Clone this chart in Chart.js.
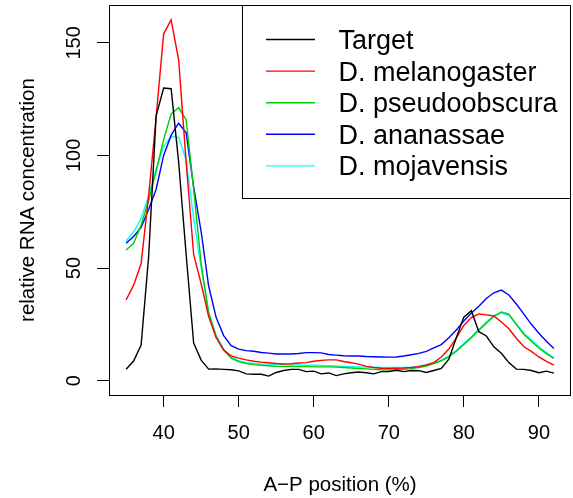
<!DOCTYPE html>
<html lang="en">
<head>
<meta charset="UTF-8">
<title>Relative RNA concentration</title>
<script src="https://cdn.jsdelivr.net/npm/chart.js"></script>
<style>
    html, body { margin: 0; padding: 0; background: #fff; }
    #grafico { display: block; }
</style>
</head>
<body>
<canvas id="grafico" width="573" height="498"></canvas>
<script>
    // A-P position (%)
    const posicoes = [35, 36, 37, 38, 39, 40, 41, 42, 43, 44,
        45, 46, 47, 48, 49, 50, 51, 52, 53, 54,
        55, 56, 57, 58, 59, 60, 61, 62, 63, 64,
        65, 66, 67, 68, 69, 70, 71, 72, 73, 74,
        75, 76, 77, 78, 79, 80, 81, 82, 83, 84,
        85, 86, 87, 88, 89, 90, 91, 92];

    const target = [5, 8.7, 15.8, 55, 117.6, 129.9, 129.6, 97, 56, 16.7,
        9.1, 5.1, 5.2, 5, 4.8, 4.3, 3, 2.8, 2.8, 2,
        3.6, 4.5, 5, 5, 4, 4.2, 3, 3.4, 2.2, 3,
        3.5, 3.8, 3.5, 3, 4, 4, 4.6, 4, 4.5, 4.4,
        3.6, 4.5, 5.4, 9.5, 19, 28.2, 31, 21.7, 19.8, 15,
        12.1, 8, 5.1, 5, 4.5, 3.5, 4.2, 3.3];

    const melanogaster = [35.8, 42.4, 52, 82, 117, 154, 160.2, 142.4, 97, 56,
        43, 28.4, 19, 13.5, 11, 10, 9.2, 8.6, 8.2, 7.9,
        7.6, 7.4, 7.5, 7.8, 8, 8.6, 9, 9.2, 9.2, 8.5,
        7.9, 7.3, 6.3, 5.8, 5.5, 5.4, 5.5, 5.6, 5.8, 6.2,
        7, 8, 10.5, 14, 19, 24.5, 28, 29.6, 29.2, 28.7,
        26, 23, 18.8, 15, 13, 10.5, 8.5, 6.9];

    const pseudoobscura = [58, 61, 69, 80, 93, 107, 118.4, 121.2, 115.8, 85,
        52, 30, 19.5, 13.5, 10, 8.4, 7.6, 7.1, 6.8, 6.6,
        6.4, 6.3, 6.3, 6.2, 6.2, 6.1, 6.1, 6.1, 6, 5.8,
        5.6, 5.4, 5.2, 5, 4.8, 4.7, 4.8, 5, 5.3, 5.8,
        6.5, 7.5, 8.8, 10.5, 13, 16, 19, 22.4, 25.5, 28.5,
        30.5, 29.5, 25, 20.5, 17.5, 14.5, 12, 9.9];

    const ananassae = [61, 64, 68, 76, 85, 100, 109, 114.3, 110, 86,
        66, 42, 28, 20, 15.5, 14, 13.3, 13, 12.5, 12.2,
        11.8, 11.8, 11.8, 12, 12.4, 12.4, 12.3, 11.6, 11.3, 11,
        10.9, 10.9, 10.7, 10.6, 10.5, 10.4, 10.5, 10.9, 11.5, 12.1,
        13, 14.5, 16, 19, 22.5, 26.5, 30, 33, 36.5, 39,
        40.2, 38, 34, 29.5, 25, 21, 17.5, 14.3];

    const mojavensis = [62, 66, 72, 82, 94, 104, 108.4, 108, 98, 72,
        50, 30, 20, 14, 10.5, 8.8, 8, 7.6, 7.4, 7.3,
        7.2, 7.1, 7, 6.9, 6.8, 6.8, 6.7, 6.6, 6.5, 6.3,
        6.2, 6.1, 6, 5.9, 5.8, 5.8, 5.8, 5.8, 6, 6.4,
        7, 8, 9, 11, 13.5, 16.5, 19.5, 22.8, 26, 28.8,
        30, 29, 25, 21, 18, 15, 12.5, 10];

    const nomesSeries = ['Target', 'D. melanogaster', 'D. pseudoobscura', 'D. ananassae', 'D. mojavensis'];
    const coresSeries = ['#000000', '#ff0000', '#00cd00', '#0000ff', '#00ffff'];

    const ticksX = [40, 50, 60, 70, 80, 90];
    const ticksY = [0, 50, 100, 150];

    const fonte = '"Liberation Sans", Arial, Helvetica, sans-serif';

    function pontos(valores) {
        return posicoes.map((x, i) => ({ x: x, y: valores[i] }));
    }

    const todasSeries = [target, melanogaster, pseudoobscura, ananassae, mojavensis];

    const dados = {
        datasets: todasSeries.map((serie, i) => ({
            label: nomesSeries[i],
            data: pontos(serie),
            borderColor: coresSeries[i],
            backgroundColor: coresSeries[i],
            borderWidth: 1.4,
            pointRadius: 0,
            tension: 0,
            fill: false
        }))
    };

    // box, tick labels, titles and legend, drawn like an R base plot
    const estiloR = {
        id: 'estiloR',
        afterDraw(chart) {
            const ctx = chart.ctx;
            const area = chart.chartArea;
            const sx = chart.scales.x;
            const sy = chart.scales.y;

            ctx.save();
            ctx.strokeStyle = '#000';
            ctx.lineWidth = 1;
            ctx.strokeRect(Math.round(area.left) + 0.5, Math.round(area.top) + 0.5,
                Math.round(area.right - area.left) - 1, Math.round(area.bottom - area.top));

            ctx.fillStyle = '#000';
            ctx.font = '20px ' + fonte;
            ctx.textAlign = 'center';
            ctx.textBaseline = 'alphabetic';
            ticksX.forEach(v => {
                ctx.fillText(String(v), sx.getPixelForValue(v), 439);
            });
            ticksY.forEach(v => {
                ctx.save();
                ctx.translate(80, sy.getPixelForValue(v));
                ctx.rotate(-Math.PI / 2);
                ctx.fillText(String(v), 0, 0);
                ctx.restore();
            });

            ctx.font = '20.5px ' + fonte;
            ctx.fillText('A\u2212P position (%)', (area.left + area.right) / 2, 491);
            ctx.save();
            ctx.translate(34, (area.top + area.bottom) / 2);
            ctx.rotate(-Math.PI / 2);
            ctx.fillText('relative RNA concentration', 0, 0);
            ctx.restore();

            // legenda
            ctx.fillStyle = '#fff';
            ctx.fillRect(243, 6, area.right - 244, 192);
            ctx.strokeRect(242.5, Math.round(area.top) + 0.5, Math.round(area.right) - 243, 193);
            ctx.font = '27px ' + fonte;
            ctx.textAlign = 'left';
            nomesSeries.forEach((nome, i) => {
                const y = 39.5 + i * 31.6;
                ctx.strokeStyle = coresSeries[i];
                ctx.lineWidth = 1.4;
                ctx.beginPath();
                ctx.moveTo(266, y);
                ctx.lineTo(315, y);
                ctx.stroke();
                ctx.fillStyle = '#000';
                ctx.fillText(nome, 338.5, y + 9.5);
            });
            ctx.restore();
        }
    };

    const config = {
        type: 'line',
        data: dados,
        options: {
            responsive: false,
            animation: false,
            devicePixelRatio: 1,
            layout: { padding: { top: 5, right: 2, left: 0, bottom: 0 } },
            plugins: {
                legend: { display: false },
                tooltip: { enabled: false }
            },
            scales: {
                x: {
                    type: 'linear',
                    min: 32.72,
                    max: 94.28,
                    afterBuildTicks: s => { s.ticks = ticksX.map(v => ({ value: v })); },
                    afterFit: s => { s.height = 103; },
                    ticks: { display: false },
                    border: { display: false },
                    grid: { drawOnChartArea: false, drawTicks: true, tickLength: 12, color: '#000', lineWidth: 1 }
                },
                y: {
                    type: 'linear',
                    min: -6.4,
                    max: 166.8,
                    afterBuildTicks: s => { s.ticks = ticksY.map(v => ({ value: v })); },
                    afterFit: s => { s.width = 109; },
                    ticks: { display: false },
                    border: { display: false },
                    grid: { drawOnChartArea: false, drawTicks: true, tickLength: 12, color: '#000', lineWidth: 1 }
                }
            }
        },
        plugins: [estiloR]
    };

    const grafico = new Chart(document.getElementById('grafico'), config);
</script>
</body>
</html>
